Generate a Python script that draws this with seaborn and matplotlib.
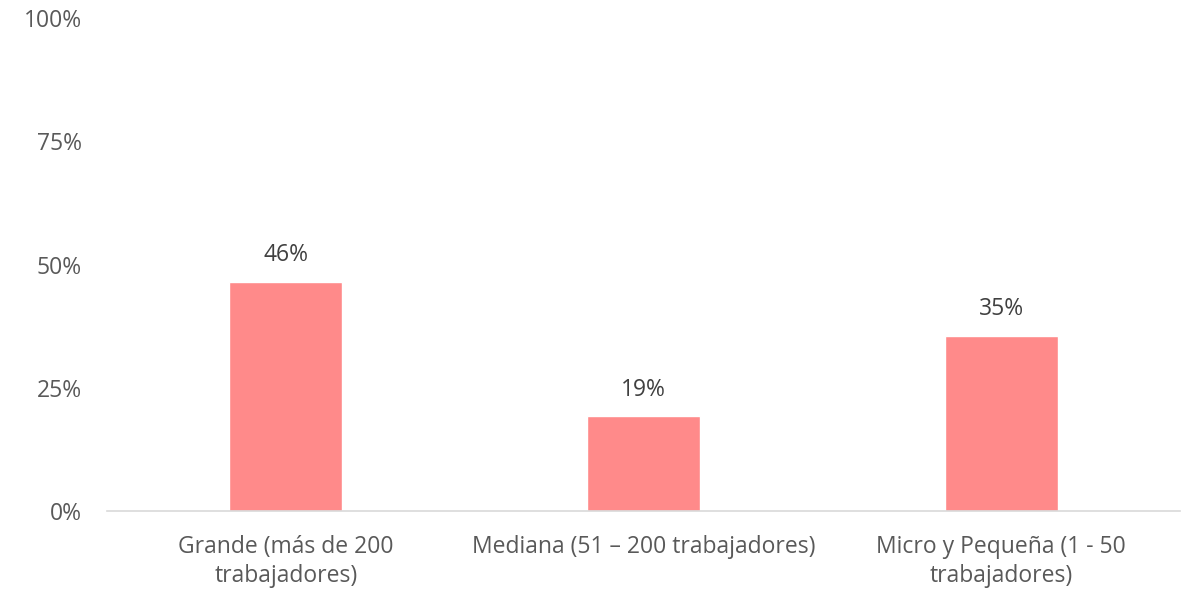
import matplotlib
matplotlib.use("Agg")
import matplotlib.pyplot as plt
import seaborn as sns
import pandas as pd

# ─── DATA ─────────────────────────────────────────────────────────────────────
categorias = [
    "Grande (más de 200\ntrabajadores)",
    "Mediana (51 – 200 trabajadores)",
    "Micro y Pequeña (1 - 50\ntrabajadores)",
]
valores = [0.465, 0.192, 0.355]
etiquetas = ["46%", "19%", "35%"]
yticks = [0, 0.25, 0.5, 0.75, 1.0]
ytick_labels = ["0%", "25%", "50%", "75%", "100%"]

TEXT = "#595959"
BAR = "#FF8A8A"
FS = 16.5

sns.set_theme(style="white")
plt.rcParams["font.family"] = ["Open Sans", "DejaVu Sans"]

df = pd.DataFrame({"cat": categorias, "val": valores})

fig = plt.figure(figsize=(11.89, 5.89), dpi=100)
ax = fig.add_axes([0.090, 0.1324, 0.9024, 0.837])

sns.barplot(data=df, x="cat", y="val", color=BAR, saturation=1,
            width=0.316, ax=ax)

# étiquettes de valeur au-dessus des barres
for i, (v, t) in enumerate(zip(valores, etiquetas)):
    ax.text(i, v + 0.03, t, ha="center", va="bottom", fontsize=FS, color="#404040")

ax.set_ylim(0, 1)
ax.set_xlim(-0.5, 2.5)
ax.set_yticks(yticks)
ax.set_yticklabels(ytick_labels, fontsize=FS, color=TEXT)
for lbl in ax.get_xticklabels():
    lbl.set_linespacing(1.3)
ax.tick_params(axis="x", labelsize=FS, labelcolor=TEXT, length=0, pad=17)
ax.tick_params(axis="y", length=0, pad=18)
ax.set_xlabel("")
ax.set_ylabel("")
for s in ["top", "right", "left"]:
    ax.spines[s].set_visible(False)
ax.spines["bottom"].set_color("#D9D9D9")
ax.spines["bottom"].set_linewidth(1.2)

fig.savefig("out.png", dpi=100, facecolor="white")
